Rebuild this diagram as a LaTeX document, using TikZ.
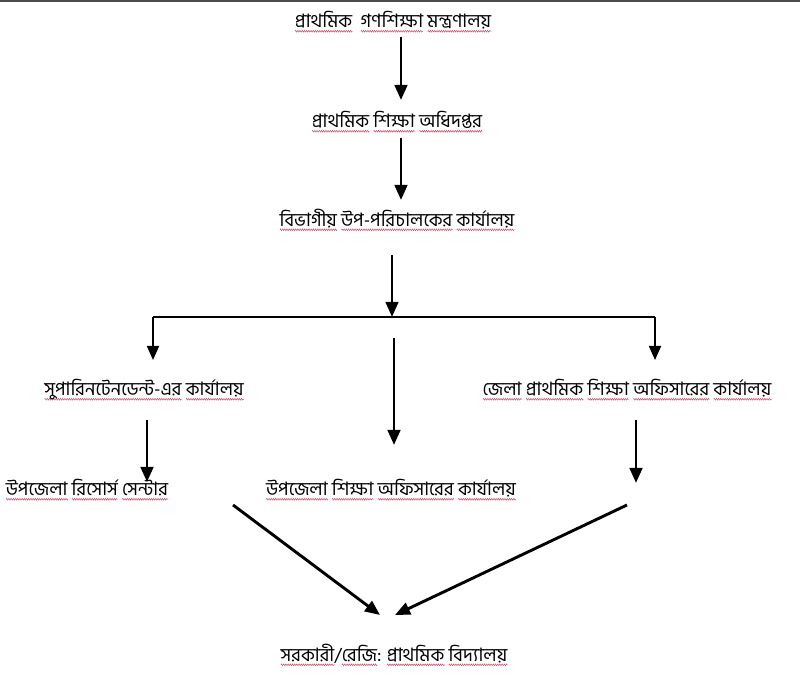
\documentclass[tikz,border=0pt]{standalone}
\usepackage{fontspec}
\newfontfamily\bn[Script=Bengali]{Hind Siliguri}
\usetikzlibrary{arrows.meta,decorations.pathmorphing,calc}
\definecolor{sqred}{RGB}{200,70,100}
\tikzset{squig/.style={draw=sqred,line width=0.45pt,decorate,decoration={zigzag,amplitude=0.9pt,segment length=2.2pt}}}
\newlength\sqw
\newcommand\sqz[1]{\settowidth\sqw{#1}\makebox[0pt][l]{\raisebox{-4.5pt}{\tikz\path[squig](0,0)--(\sqw,0);}}#1}
\begin{document}
\begin{tikzpicture}[x=1pt,y=1pt,
  lbl/.style={inner sep=0pt,font=\bn\fontsize{18.5}{22}\selectfont},
  arr/.style={line width=2.9pt,-{Triangle[length=15pt,width=12.5pt]}},
  hline/.style={line width=1.3pt},
  sarr/.style={line width=1.8pt,-{Triangle[length=14pt,width=12pt]}}]
\useasboundingbox (0,0) rectangle (800,700);
\draw[black!70,line width=1.5pt] (0,699) -- (800,699);
\node[lbl] (t1) at (393,678) {\sqz{প্রাথমিক}\ \ \sqz{গণশিক্ষা} \sqz{মন্ত্রণালয়}};
\node[lbl] (t2) at (397,578) {\sqz{প্রাথমিক} \sqz{শিক্ষা} \sqz{অধিদপ্তর}};
\node[lbl] (t3) at (397,480) {\sqz{বিভাগীয়} \sqz{উপ-পরিচালকের} \sqz{কার্যালয়}};
\node[lbl] (s) at (144,310) {\sqz{সুপারিনটেনডেন্ট-এর} \sqz{কার্যালয়}};
\node[lbl] (d) at (627,310) {\sqz{জেলা} \sqz{প্রাথমিক} \sqz{শিক্ষা} \sqz{অফিসারের} \sqz{কার্যালয়}};
\node[lbl] (u1) at (87,210) {\sqz{উপজেলা} \sqz{রিসোর্স} \sqz{সেন্টার}};
\node[lbl] (u2) at (391,210) {\sqz{উপজেলা} \sqz{শিক্ষা} \sqz{অফিসারের} \sqz{কার্যালয়}};
\node[lbl] (g) at (394,45) {\sqz{সরকারী}/\sqz{রেজি}: \sqz{প্রাথমিক} \sqz{বিদ্যালয়}};
\coordinate (hub) at (392,383);
\coordinate (hubL) at (153,383);
\coordinate (hubR) at (655,383);
\coordinate (dEnd) at (636,217);
\coordinate (rStart) at (627,195);
\draw[arr] ($(t1)+(8,-15)$) -- ($(t2)+(4,22)$);
\draw[arr] ($(t2)+(4,-16)$) -- ($(t3)+(4,20)$);
\draw[arr] ($(t3)+(-5,-35)$) -- (hub);
\draw[hline] (hubL) -- (hubR);
\draw[sarr] (hubL) -- ($(s)+(9,30)$);
\draw[sarr] (hubR) -- ($(d)+(28,30)$);
\draw[arr] ($(hub)+(2,-21)$) -- ($(u2)+(3,45)$);
\draw[arr] ($(s)+(3,-30)$) -- ($(u1)+(60,8)$);
\draw[arr] ($(d)+(9,-30)$) -- (dEnd);
\draw[arr] ($(u1)+(146,-15)$) -- ($(g)+(-14,40)$);
\draw[arr] (rStart) -- ($(g)+(1,40)$);
\end{tikzpicture}
\end{document}
